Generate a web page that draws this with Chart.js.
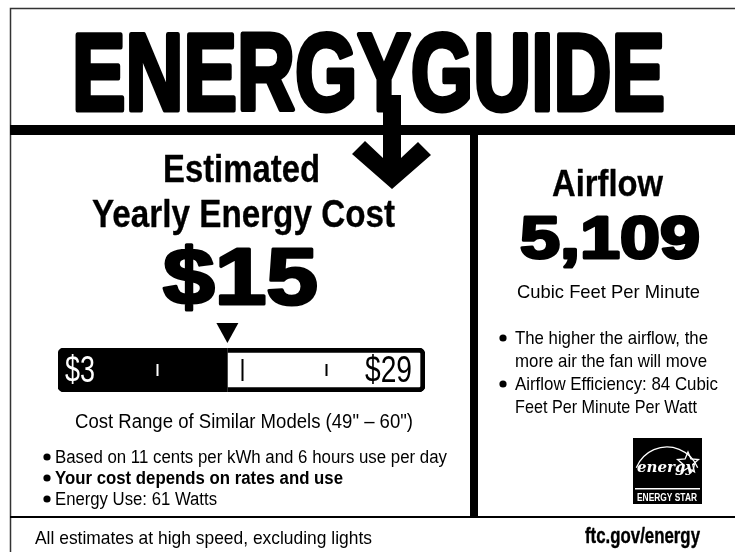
<!DOCTYPE html>
<html>
<head>
<meta charset="utf-8">
<title>EnergyGuide</title>
<script src="https://cdn.jsdelivr.net/npm/chart.js@4"></script>
<style>
html, body { margin: 0; padding: 0; background: #fff; }
#label { display: block; }
</style>
</head>
<body>
<canvas id="label" width="735" height="552"></canvas>
<script>
// Label values
const rangeCategories = ['Cost Range'];
const costRange = [3, 29];
const rangeLabels = ['$3', '$29'];
const yearlyCost = [15];
const yearlyCostLabel = ['$15'];
const rangeTicks = [10, 16, 22];
const rangeTickKinds = ['minor', 'major', 'minor'];
const airflowLabel = ['5,109'];

const SANS = "'Liberation Sans', Arial, sans-serif";

// draw text squeezed / stretched to an exact width, optionally thickened
function fitText(ctx, text, x, y, width, font, align, heavy) {
    ctx.font = font;
    const w = ctx.measureText(text).width;
    const left = align === 'center' ? x - width / 2 : x;
    ctx.save();
    ctx.translate(left, y);
    ctx.scale(width / w, 1);
    ctx.textAlign = 'left';
    ctx.textBaseline = 'alphabetic';
    if (heavy) {
        ctx.strokeStyle = ctx.fillStyle;
        ctx.lineWidth = heavy;
        ctx.lineJoin = 'round';
        ctx.strokeText(text, 0, 0);
    }
    ctx.fillText(text, 0, 0);
    ctx.restore();
}

function bullet(ctx, x, y) {
    ctx.beginPath();
    ctx.arc(x, y, 3.6, 0, Math.PI * 2);
    ctx.fill();
}

function drawStar(ctx, cx, cy, r) {
    ctx.beginPath();
    for (let i = 0; i < 10; i++) {
        const a = -Math.PI / 2 + i * Math.PI / 5;
        const rr = i % 2 === 0 ? r : r * 0.45;
        const px = cx + Math.cos(a) * rr;
        const py = cy + Math.sin(a) * rr;
        if (i === 0) ctx.moveTo(px, py); else ctx.lineTo(px, py);
    }
    ctx.closePath();
    ctx.stroke();
}

// frame, title, arrow and all panel text
const labelFrame = {
    id: 'labelFrame',
    beforeDraw(chart) {
        const ctx = chart.ctx;
        ctx.save();
        ctx.fillStyle = '#fff';
        ctx.fillRect(0, 0, 735, 552);

        // outer border
        ctx.strokeStyle = '#333';
        ctx.lineWidth = 1.5;
        ctx.beginPath();
        ctx.moveTo(10.5, 552);
        ctx.lineTo(10.5, 8.5);
        ctx.lineTo(735, 8.5);
        ctx.stroke();

        ctx.fillStyle = '#000';
        // heavy rule, divider, footer rule
        ctx.fillRect(10, 125, 725, 10);
        ctx.fillRect(470, 135, 8, 382);
        ctx.fillRect(10, 516, 725, 2);

        // title
        ctx.save();
        ctx.font = "bold 110px " + SANS;
        const tw = ctx.measureText('ENERGYGUIDE').width;
        ctx.translate(72, 110);
        ctx.scale(593 / tw, 1);
        ctx.lineWidth = 5;
        ctx.lineJoin = 'round';
        ctx.strokeStyle = '#000';
        ctx.strokeText('ENERGYGUIDE', 0, 0);
        ctx.fillText('ENERGYGUIDE', 0, 0);
        ctx.restore();

        // arrow
        ctx.beginPath();
        ctx.moveTo(383, 95);
        ctx.lineTo(383, 158);
        ctx.lineTo(365, 141);
        ctx.lineTo(352, 154);
        ctx.lineTo(392, 189);
        ctx.lineTo(431, 155);
        ctx.lineTo(418, 142);
        ctx.lineTo(401, 158);
        ctx.lineTo(401, 95);
        ctx.closePath();
        ctx.fill();

        // left panel
        fitText(ctx, 'Estimated', 163, 182, 157, "bold 38px " + SANS, 'left', 0.3);
        fitText(ctx, 'Yearly Energy Cost', 92, 227, 303, "bold 38px " + SANS, 'left', 0.3);
        fitText(ctx, yearlyCostLabel[0], 163, 304, 155, "bold 80px " + SANS, 'left', 3);
        fitText(ctx, 'Cost Range of Similar Models (49" \u2013 60")', 75, 428, 338, "20px " + SANS);

        bullet(ctx, 47, 457);
        fitText(ctx, 'Based on 11 cents per kWh and 6 hours use per day', 55, 463, 392, "18px " + SANS);
        bullet(ctx, 47, 478);
        fitText(ctx, 'Your cost depends on rates and use', 55, 484, 288, "bold 18px " + SANS);
        bullet(ctx, 47, 499);
        fitText(ctx, 'Energy Use: 61 Watts', 55, 505, 162, "18px " + SANS);

        // right panel
        fitText(ctx, 'Airflow', 552, 196, 111, "bold 37px " + SANS, 'left', 0.3);
        fitText(ctx, airflowLabel[0], 520, 258, 180, "bold 59px " + SANS, 'left', 3);
        fitText(ctx, 'Cubic Feet Per Minute', 517, 298, 183, "19px " + SANS);

        bullet(ctx, 503, 338);
        fitText(ctx, 'The higher the airflow, the', 515, 344, 193, "19px " + SANS);
        fitText(ctx, 'more air the fan will move', 515, 367, 192, "19px " + SANS);
        bullet(ctx, 503, 384);
        fitText(ctx, 'Airflow Efficiency: 84 Cubic', 515, 390, 203, "19px " + SANS);
        fitText(ctx, 'Feet Per Minute Per Watt', 515, 413, 182, "19px " + SANS);

        // energy star mark
        ctx.fillRect(633, 438, 69, 66);
        ctx.strokeStyle = '#fff';
        ctx.fillStyle = '#fff';
        ctx.lineWidth = 1.3;
        ctx.beginPath();
        ctx.arc(667, 480, 33, Math.PI * 1.12, Math.PI * 1.88);
        ctx.stroke();
        ctx.font = "italic bold 15px 'DejaVu Serif', serif";
        ctx.fillText('energy', 637, 472);
        drawStar(ctx, 688, 463, 11);
        ctx.fillRect(635, 488, 65, 1.5);
        fitText(ctx, 'ENERGY STAR', 667, 501, 60, "bold 11px " + SANS, 'center');

        // footer
        ctx.fillStyle = '#000';
        fitText(ctx, 'All estimates at high speed, excluding lights', 35, 544, 337, "19px " + SANS);
        fitText(ctx, 'ftc.gov/energy', 585, 543, 115, "bold 22px " + SANS, 'left', 0.4);
        ctx.restore();
    },
    afterDatasetsDraw(chart) {
        const ctx = chart.ctx;
        const x = chart.scales.x;
        const area = chart.chartArea;
        ctx.save();

        // marker over the estimated cost
        const cx = x.getPixelForValue(yearlyCost[0]);
        ctx.fillStyle = '#000';
        ctx.beginPath();
        ctx.moveTo(cx - 11, area.top - 25);
        ctx.lineTo(cx + 11, area.top - 25);
        ctx.lineTo(cx, area.top - 5);
        ctx.closePath();
        ctx.fill();

        // scale ticks
        const mid = (area.top + area.bottom) / 2;
        rangeTicks.forEach(function(v, i) {
            const px = Math.round(x.getPixelForValue(v)) + 0.5;
            const half = rangeTickKinds[i] === 'major' ? 11 : 6;
            ctx.strokeStyle = v < yearlyCost[0] ? '#fff' : '#000';
            ctx.lineWidth = 2;
            ctx.beginPath();
            ctx.moveTo(px, mid - half);
            ctx.lineTo(px, mid + half);
            ctx.stroke();
        });

        // end labels
        ctx.fillStyle = '#fff';
        fitText(ctx, rangeLabels[0], x.getPixelForValue(costRange[0]) + 7, area.bottom - 10, 30, "36px " + SANS);
        ctx.fillStyle = '#000';
        fitText(ctx, rangeLabels[1], x.getPixelForValue(costRange[1]) - 60, area.bottom - 10, 47, "36px " + SANS);
        ctx.restore();
    }
};

const ctx = document.getElementById('label').getContext('2d');
new Chart(ctx, {
    type: 'bar',
    data: {
        labels: rangeCategories,
        datasets: [{
            label: 'Estimated cost',
            data: [[costRange[0], yearlyCost[0]]],
            backgroundColor: '#000',
            borderWidth: 0,
            borderSkipped: false,
            borderRadius: { topLeft: 6, bottomLeft: 6, topRight: 0, bottomRight: 0 }
        }, {
            label: 'Rest of range',
            data: [[yearlyCost[0], costRange[1]]],
            backgroundColor: '#fff',
            borderColor: '#000',
            borderWidth: { top: 5, right: 5, bottom: 5, left: 0 },
            borderSkipped: false,
            borderRadius: { topLeft: 0, bottomLeft: 0, topRight: 6, bottomRight: 6 }
        }]
    },
    options: {
        indexAxis: 'y',
        responsive: false,
        animation: false,
        events: [],
        layout: {
            padding: { left: 58, right: 310, top: 348, bottom: 160 }
        },
        datasets: {
            bar: { grouped: false, barPercentage: 1, categoryPercentage: 1 }
        },
        scales: {
            x: { min: costRange[0], max: costRange[1], display: false },
            y: { display: false }
        },
        plugins: {
            legend: { display: false },
            tooltip: { enabled: false }
        }
    },
    plugins: [labelFrame]
});
</script>
</body>
</html>
